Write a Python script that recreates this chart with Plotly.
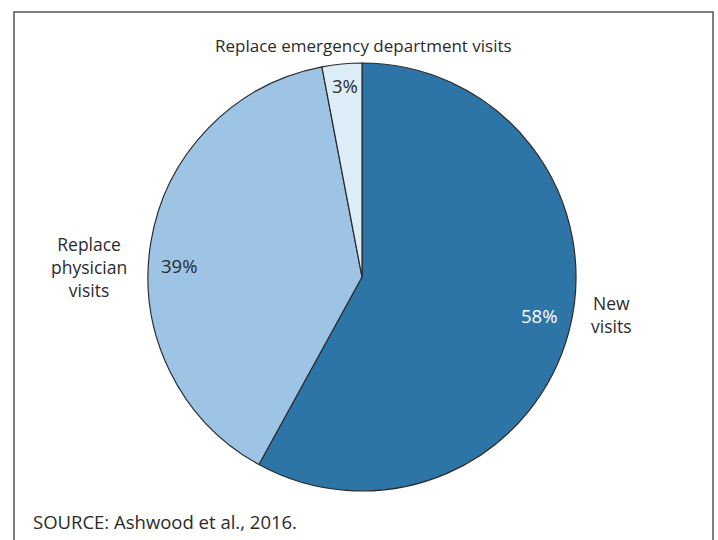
import plotly.graph_objects as go

categories = ["New visits", "Replace physician visits", "Replace emergency department visits"]
values = [58, 39, 3]
percent_labels = ["58%", "39%", "3%"]
colors = ["#2E75A7", "#9DC3E5", "#DCEDF8"]
text_colors = ["#FFFFFF", "#2B2B2B", "#2B2B2B"]

W, H = 718, 540
FONT = "Open Sans, sans-serif"

fig = go.Figure(go.Pie(
    labels=categories,
    values=values,
    textinfo="none",
    marker=dict(colors=colors, line=dict(color="#2B2B2B", width=1.2)),
    sort=False,
    direction="clockwise",
    rotation=0,
    hole=0,
    showlegend=False,
    domain=dict(x=[148 / W, 576 / W], y=[49 / H, 477 / H]),
))

ann_font = dict(family=FONT, size=17, color="#2B2B2B")
# percent label anchor points (pixel positions in the reference)
pct_pos = [(539, 315), (179, 265), (345, 85)]
annotations = []
for txt, col, (px, py) in zip(percent_labels, text_colors, pct_pos):
    annotations.append(dict(text=txt, x=px / W, y=1 - py / H, xref="paper", yref="paper",
                            showarrow=False, font=dict(family=FONT, size=18.5, color=col),
                            xanchor="center", yanchor="middle"))

annotations += [
    dict(text="Replace emergency department visits", x=363 / W, y=1 - 45 / H,
         xref="paper", yref="paper", showarrow=False, font=ann_font,
         xanchor="center", yanchor="middle"),
    dict(text="Replace<br>physician<br>visits", x=89 / W, y=1 - 267 / H,
         xref="paper", yref="paper", showarrow=False, font=dict(family=FONT, size=17.5, color="#2B2B2B"),
         xanchor="center", yanchor="middle", align="center"),
    dict(text="New<br>visits", x=611 / W, y=1 - 314 / H,
         xref="paper", yref="paper", showarrow=False, font=dict(family=FONT, size=17.5, color="#2B2B2B"),
         xanchor="center", yanchor="middle", align="center"),
    dict(text="SOURCE: Ashwood et al., 2016.", x=31 / W, y=1 - 521 / H,
         xref="paper", yref="paper", showarrow=False, font=dict(family=FONT, size=18.5, color="#2B2B2B"),
         xanchor="left", yanchor="middle", align="left"),
]

fig.update_layout(
    width=W, height=H,
    margin=dict(l=0, r=0, t=0, b=0),
    paper_bgcolor="white",
    plot_bgcolor="white",
    shapes=[dict(type="rect", xref="paper", yref="paper",
                 x0=14 / W, x1=713 / W, y0=-0.05, y1=1 - 12 / H,
                 line=dict(color="#555555", width=1.5))],
    annotations=annotations,
)

fig.write_html("out.html")
